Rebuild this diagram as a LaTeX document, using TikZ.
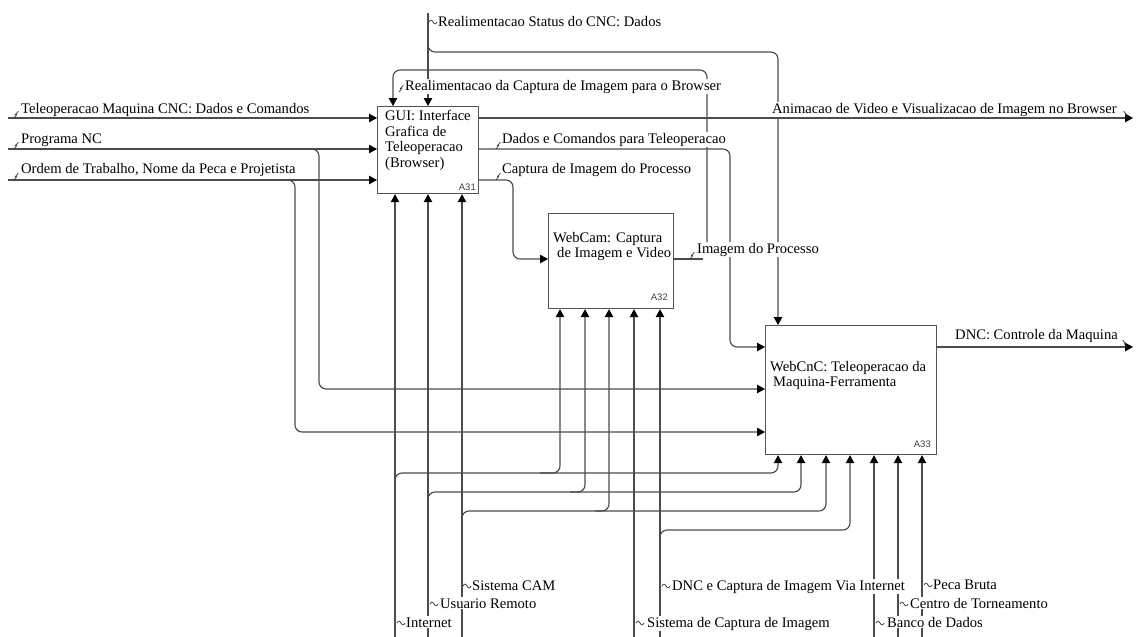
\documentclass[tikz,border=0pt]{standalone}
\usepackage{fontspec}
\setmainfont{Liberation Serif}
\newfontfamily\anum{Liberation Sans}
\usetikzlibrary{arrows.meta}
\begin{document}
\begin{tikzpicture}[x=1pt,y=-1pt,
  line/.style={draw=black!70,line width=1.15pt,rounded corners=7pt},
  arr/.style={line,-{Triangle[length=8pt,width=8.5pt,fill=black,color=black]}},
  boxa/.style={draw=black!68,line width=1.2pt,anchor=north west,inner sep=0pt},
  lab/.style={anchor=base west,fill=white,inner sep=1pt,font=\fontsize{14.6}{15.4}\selectfont},
  btxt/.style={anchor=north west,inner sep=0pt,align=left,font=\fontsize{14.6}{15.6}\selectfont},
  anumb/.style={anchor=base east,inner sep=0pt,font=\anum\fontsize{9.5}{10}\selectfont,text=black!75},
  bolt/.pic={\draw[black!80,line width=0.7pt] (0,0) -- (2.6,-3.2) -- (1.4,-3.4) -- (4.4,-6.8);},
  tld/.pic={\draw[black!80,line width=0.7pt] (0,0) .. controls (1.3,-2.6) and (2.7,-2.6) .. (4,0) .. controls (5.3,2.6) and (6.7,2.6) .. (8,0);}
]
\useasboundingbox (0,0) rectangle (1136,637);
% boxes
\node[boxa,minimum width=101pt,minimum height=87pt] (A31) at (377,106) {};
\node[boxa,minimum width=125pt,minimum height=95pt] (A32) at (548,213) {};
\node[boxa,minimum width=171pt,minimum height=129pt] (A33) at (765,325) {};
\node[btxt] (t31) at (385,110) {GUI: Interface\\ Grafica de\\ Teleoperacao\\ (Browser)};
\node[anumb] (n31) at (476,190) {A31};
\node[btxt] (t32) at (553,232) {WebCam: Captura\\ \hspace*{4pt}de Imagem e Video};
\node[anumb] (n32) at (668,300) {A32};
\node[btxt] (t33) at (770,361) {WebCnC: Teleoperacao da\\ \hspace*{3pt}Maquina-Ferramenta};
\node[anumb] (n33) at (931,447) {A33};
% free ends
\coordinate (i1) at (8,118);
\coordinate (i2) at (8,149);
\coordinate (i3) at (8,180);
\coordinate (ctop) at (428,13);
\coordinate (oR1) at (1133,118);
\coordinate (oR2) at (1133,347);
\coordinate (bInt) at (395,637);
\coordinate (bUsu) at (428,637);
\coordinate (bCam) at (462,637);
\coordinate (bSis) at (634,637);
\coordinate (bDnc) at (660,637);
\coordinate (bBan) at (874,637);
\coordinate (bCen) at (898,637);
\coordinate (bPec) at (922,637);
\coordinate (fbend) at (707,242);
\coordinate (o32) at (703,259);
% inputs A31
\draw[arr] (i1) -- (i1 -| A31.west);
\draw[arr] (i2) -- (i2 -| A31.west);
\draw[arr] (i3) -- (i3 -| A31.west);
% branches to A33
\draw[arr] (300,149) -- (319,149) -- (319,389) -- (A33.west |- 0,389);
\draw[arr] (280,180) -- (295,180) -- (295,432) -- (A33.west |- 0,432);
% controls
\draw[arr] (ctop) -- (ctop |- A31.north);
\draw[arr] (428,40) -- (428,52) -- (778,52) -- (778,0 |- A33.north);
\draw[arr] (fbend) -- (707,70) -- (393,70) -- (393,0 |- A31.north);
% outputs A31
\draw[arr] (A31.east |- oR1) -- (oR1);
\draw[arr] (A31.east |- 0,149) -- (730,149) -- (730,347) -- (A33.west |- 0,347);
\draw[arr] (A31.east |- 0,180) -- (513,180) -- (513,259) -- (A32.west |- 0,259);
\draw[line] (A32.east |- o32) -- (o32);
\draw[arr] (A33.east |- oR2) -- (oR2);
% mechanisms
\draw[arr] (bInt) -- (bInt |- A31.south);
\draw[arr] (bUsu) -- (bUsu |- A31.south);
\draw[arr] (bCam) -- (bCam |- A31.south);
\draw[arr] (395,490) -- (395,473) -- (778,473) -- (778,0 |- A33.south);
\draw[arr] (540,473) -- (560,473) -- (560,0 |- A32.south);
\draw[arr] (428,505) -- (428,492) -- (801,492) -- (801,0 |- A33.south);
\draw[arr] (570,492) -- (585,492) -- (585,0 |- A32.south);
\draw[arr] (462,525) -- (462,511) -- (826,511) -- (826,0 |- A33.south);
\draw[arr] (595,511) -- (609,511) -- (609,0 |- A32.south);
\draw[arr] (bSis) -- (bSis |- A32.south);
\draw[arr] (bDnc) -- (bDnc |- A32.south);
\draw[arr] (660,545) -- (660,530) -- (850,530) -- (850,0 |- A33.south);
\draw[arr] (bBan) -- (bBan |- A33.south);
\draw[arr] (bCen) -- (bCen |- A33.south);
\draw[arr] (bPec) -- (bPec |- A33.south);
% labels
\node[lab] (l1) at (20,113) {Teleoperacao Maquina CNC: Dados e Comandos};
\node[lab] (l2) at (20,143) {Programa NC};
\node[lab] (l3) at (20,173) {Ordem de Trabalho, Nome da Peca e Projetista};
\node[lab] (l4) at (437,27) {Realimentacao Status do CNC: Dados};
\node[lab] (l5) at (404,90) {Realimentacao da Captura de Imagem para o Browser};
\node[lab] (l6) at (501,143) {Dados e Comandos para Teleoperacao};
\node[lab] (l7) at (501,173) {Captura de Imagem do Processo};
\node[lab] (l8) at (771,113) {Animacao de Video e Visualizacao de Imagem no Browser};
\node[lab] (l9) at (696,253) {Imagem do Processo};
\node[lab] (l10) at (954,339) {DNC: Controle da Maquina};
\node[lab] (l11) at (471,590) {Sistema CAM};
\node[lab] (l12) at (439,608) {Usuario Remoto};
\node[lab] (l13) at (405,627) {Internet};
\node[lab] (l14) at (671,590) {DNC e Captura de Imagem Via Internet};
\node[lab] (l15) at (646,627) {Sistema de Captura de Imagem};
\node[lab] (l16) at (932,589) {Peca Bruta};
\node[lab] (l17) at (909,608) {Centro de Torneamento};
\node[lab] (l18) at (886,627) {Banco de Dados};
% squiggles
\pic at (14,118) {bolt};
\pic at (14,149) {bolt};
\pic at (14,180) {bolt};
\pic at (496,149) {bolt};
\pic at (496,180) {bolt};
\pic at (690,259) {bolt};
\pic at (399,92) {bolt};
\pic[xscale=-1] at (1128,118) {bolt};
\pic[xscale=-1] at (1127,347) {bolt};
\pic at (429,22) {tld};
\pic at (463,586) {tld};
\pic at (430,604) {tld};
\pic at (397,623) {tld};
\pic at (662,586) {tld};
\pic at (636,623) {tld};
\pic at (924,585) {tld};
\pic at (900,604) {tld};
\pic at (876,623) {tld};
\end{tikzpicture}
\end{document}
